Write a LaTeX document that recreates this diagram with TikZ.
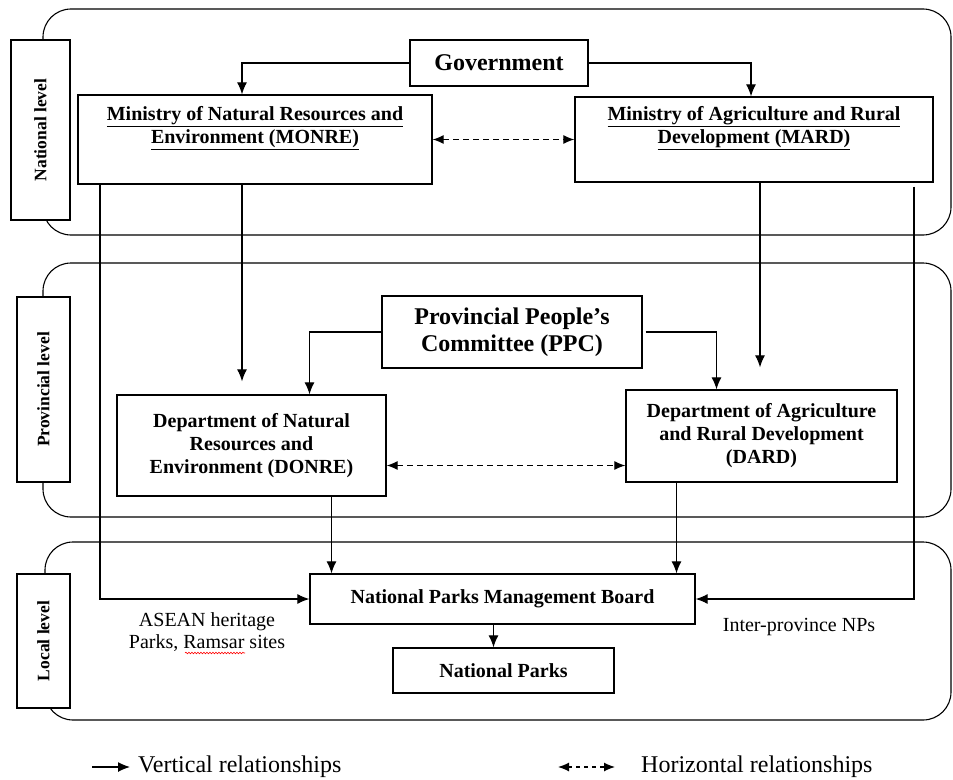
\documentclass[tikz,border=0pt]{standalone}
\usepackage{fontspec}
\setmainfont{Liberation Serif}
\usepackage{xcolor}
\usetikzlibrary{arrows.meta}
\usetikzlibrary{decorations.pathmorphing, math}

\begin{document}
\begin{tikzpicture}[x=1pt,y=-1pt,
  box/.style={draw,line width=1.3,fill=white,align=center,inner sep=0pt,font=\fontsize{20}{23}\selectfont\bfseries},
  bigbox/.style={box,font=\fontsize{24}{27}\selectfont\bfseries},
  levelbox/.style={draw,line width=1.3,fill=white,rotate=90,inner sep=0pt,font=\fontsize{17.5}{20}\selectfont\bfseries},
  band/.style={draw,line width=1.1,rounded corners=28},
  vert/.style={line width=1.2,-{Latex[length=12pt,width=10pt]}},
  horiz/.style={line width=1.2,dash pattern=on 6pt off 4pt,{Latex[length=11pt,width=9pt]}-{Latex[length=11pt,width=9pt]}},
  plain/.style={align=center,font=\fontsize{20}{22}\selectfont},
  legend/.style={anchor=west,inner sep=0pt,font=\fontsize{24}{26}\selectfont}
]
\tikzmath{
\W=953; \H=779;
}

\useasboundingbox (0,0) rectangle (\W,\H);

\draw[band] (43,9) rectangle (951,235);
\draw[band] (43,263) rectangle (951,517);
\draw[band] (45,542) rectangle (951,720);

\node[levelbox,minimum width=180,minimum height=59] (natl) at (40.5,130) {National level};
\node[levelbox,minimum width=185,minimum height=53] (prov) at (43.5,389.5) {Provincial level};
\node[levelbox,minimum width=134,minimum height=53] (loc) at (43.5,641) {Local level};

\node[bigbox,minimum width=178,minimum height=46] (gov) at (499,63) {Government};
\node[box,minimum width=354,minimum height=89] (monre) at (255,139.5) {\underline{Ministry of Natural Resources and}\\\underline{Environment (MONRE)}\\ \strut};
\node[box,minimum width=358,minimum height=85] (mard) at (754,139.5) {\underline{Ministry of Agriculture and Rural}\\\underline{Development (MARD)}\\ \strut};

\node[bigbox,minimum width=260,minimum height=72] (ppc) at (512,332) {Provincial People’s\\Committee (PPC)};
\node[box,minimum width=269,minimum height=101] (donre) at (251.5,445.5) {Department of Natural\\Resources and\\Environment (DONRE)};
\node[box,minimum width=271,minimum height=92] (dard) at (761.5,436) {Department of Agriculture\\and Rural Development\\(DARD)};

\node[box,minimum width=385,minimum height=50] (npmb) at (502.5,599) {National Parks Management Board};
\node[box,minimum width=221,minimum height=45] (np) at (503.5,670.5) {National Parks};

\node[plain] (asean) at (207,632) {ASEAN heritage\\Parks, Ramsar sites};
\draw[red,line width=0.6,decorate,decoration={snake,amplitude=0.8pt,segment length=3pt}] (185,653) -- (245,653);
\node[plain] (inter) at (799,627) {Inter-province NPs};

\draw[vert] (gov.west) -| ([xshift=-13]monre.north);
\draw[vert] (gov.east) -| ([xshift=-3]mard.north);
\draw[horiz] (monre.east) -- (mard.west);

\draw[vert] ([xshift=-155]monre.south) |- (npmb.west);
\draw[vert,shorten >=13pt] ([xshift=-13]monre.south) -- ([xshift=-13]monre.south |- donre.north);
\draw[vert,shorten >=22pt] ([xshift=6]mard.south) -- ([xshift=6]mard.south |- dard.north);
\draw[vert] ([xshift=160,yshift=-4]mard.south) |- (npmb.east);

\draw[vert] (ppc.west) -| ([xshift=58]donre.north);
\draw[vert] ([xshift=3]ppc.east) -| ([xshift=-45]dard.north);
\draw[horiz] ([yshift=-20]donre.east) -- ([yshift=-20]donre.east -| dard.west);

\draw[vert] ([xshift=80]donre.south) -- ([xshift=80]donre.south |- npmb.north);
\draw[vert] ([xshift=-85]dard.south) -- ([xshift=-85]dard.south |- npmb.north);
\draw[vert] ([xshift=-9]npmb.south) -- ([xshift=-9]npmb.south |- np.north);

\coordinate (vstart) at (92,767);
\node[legend] (vlegend) at (138,767) {Vertical relationships};
\draw[vert] (vstart) -- ([xshift=-8]vlegend.west);
\coordinate (hstart) at (558,767);
\node[legend] (hlegend) at (641,767) {Horizontal relationships};
\draw[horiz,dash pattern=on 4pt off 4pt] (hstart) -- ([xshift=-26]hlegend.west);

\end{tikzpicture}
\end{document}
